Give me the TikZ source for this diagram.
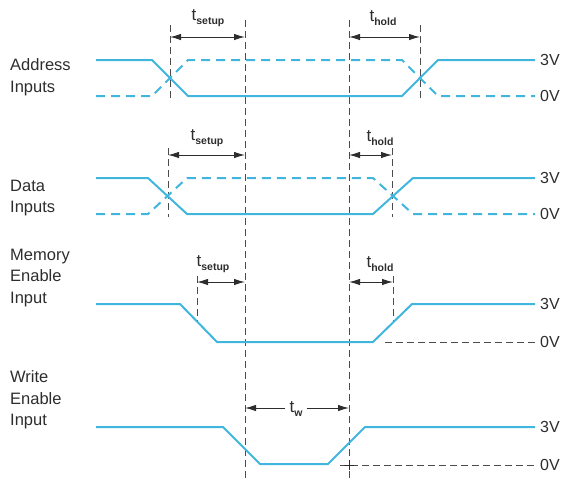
\documentclass[tikz,border=0pt]{standalone}
\usepackage{fontspec}
\setmainfont{Liberation Sans}
\usetikzlibrary{arrows.meta}
\definecolor{sigblue}{RGB}{64,182,222}
\definecolor{inkgray}{RGB}{45,45,45}
\def\tsub#1{t\raisebox{-0.4ex}{\fontsize{10.5}{12}\selectfont\bfseries #1}}
\begin{document}
\begin{tikzpicture}[x=1pt,y=-1pt]
\tikzset{
  sig/.style={draw=sigblue,line width=2pt,line join=round},
  sigdash/.style={sig,dash pattern=on 9pt off 6pt},
  guide/.style={draw=inkgray!85,line width=0.6pt,dash pattern=on 7pt off 4pt},
  dim/.style={draw=inkgray,line width=1pt,{Latex[length=11pt,width=6.5pt]}-{Latex[length=11pt,width=6.5pt]}},
  halfdim/.style={draw=inkgray,line width=1pt,-{Latex[length=11pt,width=6.5pt]}},
  lbl/.style={font=\fontsize{16.5}{21.5}\selectfont,text=inkgray,align=left,anchor=west,inner sep=0pt},
  volt/.style={font=\fontsize{16}{18}\selectfont,text=inkgray,anchor=west,inner sep=0pt},
  tlbl/.style={font=\fontsize{17}{18}\selectfont,text=inkgray,inner sep=1pt},
}
\useasboundingbox (0,0) rectangle (566,482);

% signal names
\node[lbl] (addr) at (10,77) {Address\\Inputs};
\node[lbl] (data) at (10,198) {Data\\Inputs};
\node[lbl] (mem) at (10,278) {Memory\\Enable\\Input};
\node[lbl] (we) at (10,400) {Write\\Enable\\Input};

% voltage levels
\foreach \name/\yy/\txt in {a3/60/3V, a0/96/0V, d3/178/3V, d0/214/0V, m3/304/3V, m0/342/0V, w3/427/3V, w0/465/0V}{
  \node[volt] (\name) at (540,\yy) {\txt};
  \coordinate (\name-e) at (535,\yy);
}

% reference lines
\draw[guide] (245,20) -- (245,482);
\draw[guide] (349,20) -- (349,482);
\draw[guide] (170,25) -- (170,100);
\draw[guide] (420,25) -- (420,100);
\draw[guide] (168,148) -- (168,217);
\draw[guide] (392,148) -- (392,217);
\draw[guide] (197,276) -- (197,321);
\draw[guide] (393,276) -- (393,322);
\draw[guide] (385,342) -- (m0-e);
\draw[guide] (340,465) -- (w0-e);
\draw[inkgray,line width=0.7pt] (349,460) -- (349,470) (344,465) -- (354,465);

% address
\draw[sigdash] (96,96) -- (152,96) -- (188,60) -- (402,60) -- (438,96) -- (a0-e);
\draw[sig] (96,60) -- (152,60) -- (188,96) -- (402,96) -- (438,60) -- (a3-e);
% data
\draw[sigdash] (96,214) -- (148,214) -- (187,178) -- (373,178) -- (413,214) -- (d0-e);
\draw[sig] (96,178) -- (148,178) -- (187,214) -- (373,214) -- (413,178) -- (d3-e);
% memory enable
\draw[sig] (96,304) -- (180,304) -- (217,342) -- (373,342) -- (412,304) -- (m3-e);
% write enable
\draw[sig] (96,427) -- (223,427) -- (260,464) -- (328,464) -- (365,427) -- (w3-e);

% timing marks
\foreach \name/\xa/\xb/\yy/\txt/\tx/\ty in {
    as/170/245/37/setup/208/18,
    ah/349/420/37/hold/383/18,
    ds/168/245/155/setup/207/138,
    dh/349/392/155/hold/380/138,
    ms/197/245/282/setup/213/264,
    mh/349/393/282/hold/380/264}{
  \coordinate (\name-l) at (\xa,\yy);
  \coordinate (\name-r) at (\xb,\yy);
  \node[tlbl] (\name-t) at (\tx,\ty) {\tsub{\txt}};
  \draw[dim] (\name-l) -- (\name-r);
}
\coordinate (tw-l) at (245,408);
\coordinate (tw-r) at (349,408);
\node[tlbl,inner sep=4pt] (tw-t) at (296,409) {\tsub{w}};
\draw[halfdim] (tw-t.west|-tw-l) -- (tw-l);
\draw[halfdim] (tw-t.east|-tw-r) -- (tw-r);
\end{tikzpicture}
\end{document}
